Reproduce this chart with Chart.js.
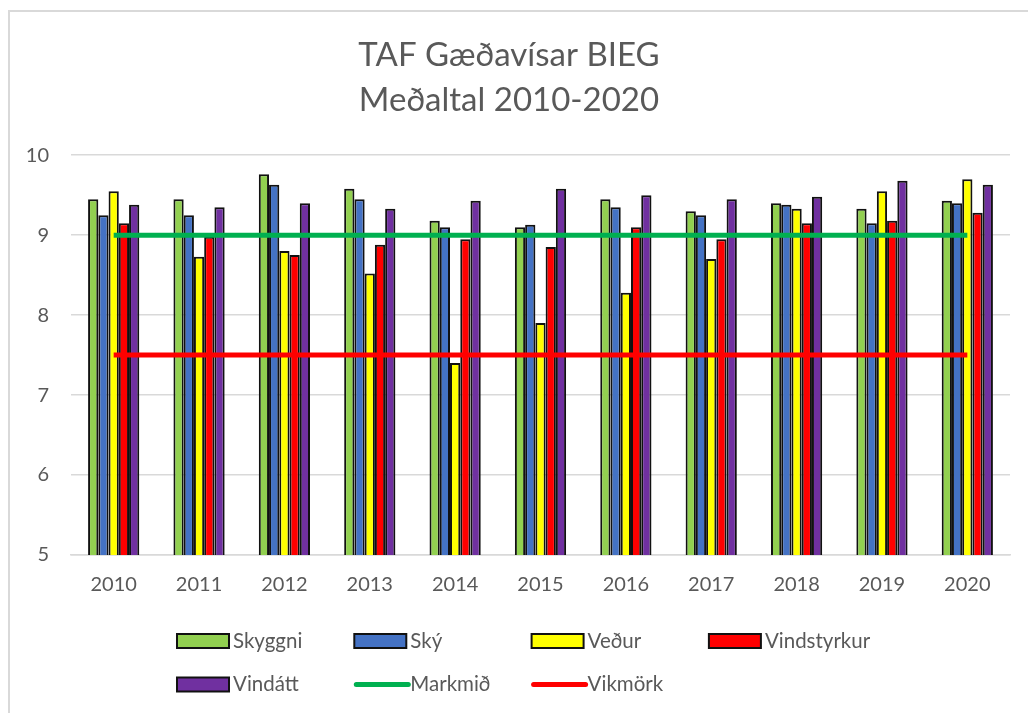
<!DOCTYPE html>
<html>
<head>
<meta charset="utf-8">
<script src="https://cdn.jsdelivr.net/npm/chart.js@4"></script>
<style>
  body { margin: 0; background: #fff; }
  .GraficoGaedavisar { width: 1028px; height: 713px; position: relative; }
</style>
</head>
<body>
<div class="GraficoGaedavisar"><canvas id="GraficoGaedavisar"></canvas></div>
<script>
/* Gögn lesin af myndinni */
var ar = ['2010', '2011', '2012', '2013', '2014', '2015', '2016', '2017', '2018', '2019', '2020'];
var skyggni = [9.45, 9.45, 9.76, 9.58, 9.18, 9.10, 9.45, 9.30, 9.40, 9.33, 9.43];
var sky = [9.25, 9.25, 9.63, 9.45, 9.10, 9.13, 9.35, 9.25, 9.38, 9.15, 9.40];
var vedur = [9.55, 8.73, 8.80, 8.52, 7.40, 7.90, 8.28, 8.70, 9.33, 9.55, 9.70];
var vindstyrkur = [9.15, 8.98, 8.75, 8.88, 8.95, 8.85, 9.10, 8.95, 9.15, 9.18, 9.28];
var vindatt = [9.38, 9.35, 9.40, 9.33, 9.43, 9.58, 9.50, 9.45, 9.48, 9.68, 9.63];
var markmid = [9, 9, 9, 9, 9, 9, 9, 9, 9, 9, 9];
var vikmork = [7.5, 7.5, 7.5, 7.5, 7.5, 7.5, 7.5, 7.5, 7.5, 7.5, 7.5];
var yTicks = [5, 6, 7, 8, 9, 10];

var grar = '#595959';
Chart.defaults.font.family = 'Lato, "Open Sans", sans-serif';
Chart.defaults.color = grar;

function sula(nafn, gildi, litur) {
    return {
        type: 'bar', label: nafn, data: gildi, order: 1,
        backgroundColor: litur, borderColor: '#111', borderWidth: 2,
        categoryPercentage: 0.6, barPercentage: 1.0
    };
}
function lina(nafn, gildi, litur) {
    return {
        type: 'line', label: nafn, data: gildi, order: 0,
        borderColor: litur, backgroundColor: litur, borderWidth: 5,
        pointRadius: 0, fill: false
    };
}

/* Rammi utan um grafið */
var rammi = {
    id: 'rammi',
    beforeDraw: function (chart) {
        var ctx = chart.ctx;
        ctx.save();
        ctx.strokeStyle = '#d9d9d9';
        ctx.lineWidth = 2;
        ctx.beginPath();
        ctx.moveTo(9, chart.height);
        ctx.lineTo(9, 11);
        ctx.lineTo(chart.width, 11);
        ctx.stroke();
        ctx.restore();
    }
};

/* Skýringar í jöfnum dálkum eins og í Excel */
var skyringar = {
    id: 'skyringar',
    afterDraw: function (chart) {
        var ctx = chart.ctx;
        var dalkur = 177.3, byrjun = 177, radir = [641, 684.5];
        ctx.save();
        ctx.font = '20.5px Lato, "Open Sans", sans-serif';
        ctx.textBaseline = 'middle';
        chart.data.datasets.forEach(function (ds, i) {
            var x = byrjun + (i % 4) * dalkur;
            var y = radir[Math.floor(i / 4)];
            if (ds.type === 'bar') {
                ctx.fillStyle = ds.backgroundColor;
                ctx.fillRect(x, y - 7, 52, 14);
                ctx.strokeStyle = '#111';
                ctx.lineWidth = 2;
                ctx.strokeRect(x, y - 7, 52, 14);
            } else {
                ctx.strokeStyle = ds.borderColor;
                ctx.lineWidth = 5;
                ctx.lineCap = 'round';
                ctx.beginPath();
                ctx.moveTo(x + 2, y);
                ctx.lineTo(x + 54, y);
                ctx.stroke();
            }
            ctx.fillStyle = grar;
            ctx.fillText(ds.label, x + 56, y);
        });
        ctx.restore();
    }
};

var ctx = document.getElementById('GraficoGaedavisar').getContext('2d');
var grafico = new Chart(ctx, {
    data: {
        labels: ar,
        datasets: [
            sula('Skyggni', skyggni, '#92d050'),
            sula('Ský', sky, '#4472c4'),
            sula('Veður', vedur, '#ffff00'),
            sula('Vindstyrkur', vindstyrkur, '#ff0000'),
            sula('Vindátt', vindatt, '#7030a0'),
            lina('Markmið', markmid, '#00b050'),
            lina('Vikmörk', vikmork, '#ff0000')
        ]
    },
    options: {
        responsive: true,
        maintainAspectRatio: false,
        animation: false,
        layout: { padding: { top: 12, left: 8, right: 18, bottom: 116 } },
        scales: {
            x: {
                grid: { display: false, drawTicks: false },
                border: { display: true, color: '#d9d9d9', width: 1.5 },
                ticks: { padding: 18, font: { size: 20 }, color: grar },
                afterFit: function (scale) { scale.height = 42; }
            },
            y: {
                min: 5, max: 10,
                afterBuildTicks: function (scale) {
                    scale.ticks = yTicks.map(function (v) { return { value: v }; });
                },
                grid: { color: '#d9d9d9', lineWidth: 1.5, drawTicks: false },
                border: { display: false },
                ticks: { padding: 22, font: { size: 20 }, color: grar },
                afterFit: function (scale) { scale.width = 63; }
            }
        },
        plugins: {
            legend: { display: false },
            tooltip: { enabled: false },
            title: {
                display: true,
                text: ['TAF Gæðavísar BIEG', 'Meðaltal 2010-2020'],
                color: grar,
                font: { size: 33, weight: 'normal', lineHeight: 1.36 },
                padding: { top: 20.6, bottom: 32.8 }
            }
        }
    },
    plugins: [rammi, skyringar]
});
</script>
</body>
</html>
